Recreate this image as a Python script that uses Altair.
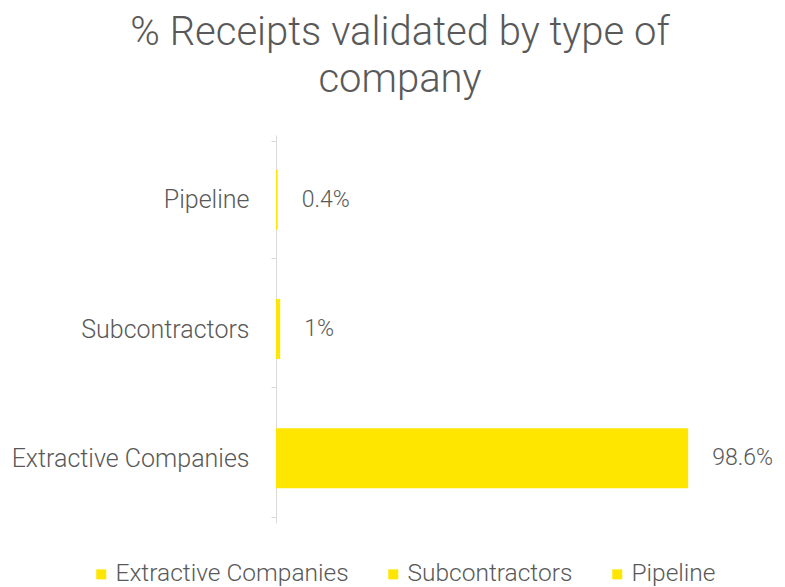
import altair as alt
import pandas as pd

categories = ["Extractive Companies", "Subcontractors", "Pipeline"]
values = [98.6, 1.0, 0.4]
labels = ["98.6%", "1%", "0.4%"]

df = pd.DataFrame({"type": categories, "value": values, "label": labels})

FONT = "Roboto"
GRAY = "#595959"
YELLOW = "#FFE600"
y_order = ["Pipeline", "Subcontractors", "Extractive Companies"]

base = alt.Chart(df)

bars = base.mark_bar(size=60, color=YELLOW).encode(
    x=alt.X("value:Q", scale=alt.Scale(domain=[0, 100]), axis=None),
    y=alt.Y(
        "type:N",
        sort=y_order,
        title=None,
        axis=alt.Axis(
            domainColor="#d9d9d9",
            tickColor="#d9d9d9",
            tickSize=5,
            tickBand="extent",
            labelFont=FONT,
            labelFontWeight=300,
            labelFontSize=25,
            labelColor=GRAY,
            labelPadding=22,
            labelLimit=400,
        ),
    ),
    color=alt.Color(
        "type:N",
        sort=categories,
        scale=alt.Scale(domain=categories, range=[YELLOW, YELLOW, YELLOW]),
        legend=alt.Legend(
            title=None,
            orient="none",
            direction="horizontal",
            legendX=-187,
            legendY=427,
            symbolType="square",
            symbolSize=100,
            symbolStrokeWidth=0,
            labelFont=FONT,
            labelFontWeight=300,
            labelFontSize=24.5,
            labelColor=GRAY,
            labelLimit=400,
            columnPadding=32,
            labelOffset=2,
        ),
    ),
)

text = base.mark_text(
    align="left", baseline="middle", dx=24, font=FONT, fontWeight=300,
    fontSize=23, color=GRAY
).encode(
    x=alt.X("value:Q"),
    y=alt.Y("type:N", sort=y_order),
    text="label:N",
)

chart = (bars + text).properties(
    width=418,
    height=388,
    autosize=alt.AutoSizeParams(type="none"),
    padding={"left": 268, "top": 127, "right": 83, "bottom": 64},
    title=alt.Title(
        ["% Receipts validated by type of", "company"],
        font=FONT,
        fontWeight=300,
        fontSize=40,
        color=GRAY,
        anchor="middle",
        dx=-85,
        offset=23,
        lineHeight=47,
    ),
).configure_view(stroke=None)

chart.save("out.html", embed_options={"renderer": "svg", "actions": False})
